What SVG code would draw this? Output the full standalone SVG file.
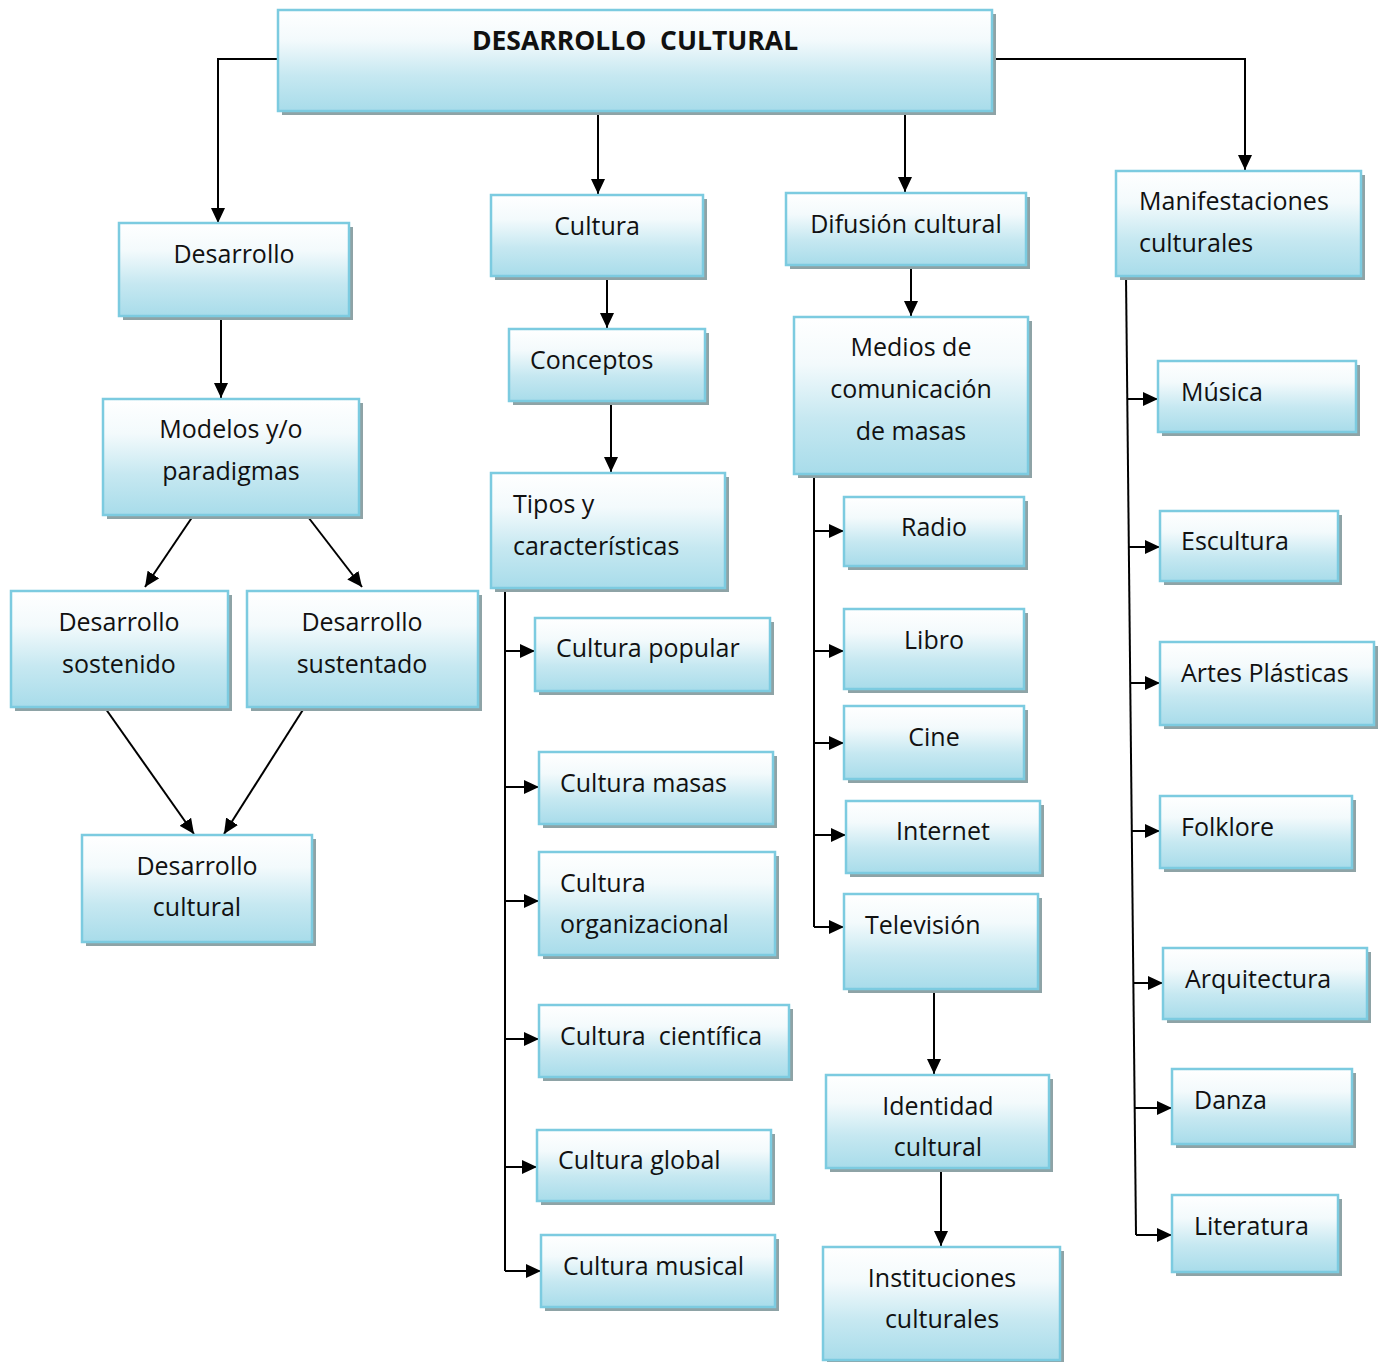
<svg xmlns="http://www.w3.org/2000/svg" width="1382" height="1362" viewBox="0 0 1382 1362">
<defs>
<linearGradient id="g" x1="0" y1="0" x2="0" y2="1">
<stop offset="0" stop-color="#ffffff"/>
<stop offset="0.3" stop-color="#f3fafc"/>
<stop offset="0.65" stop-color="#c6e8f1"/>
<stop offset="1" stop-color="#a8dcea"/>
</linearGradient>
<marker id="a" markerUnits="userSpaceOnUse" markerWidth="16" markerHeight="14" refX="15" refY="7" orient="auto">
<path d="M0,0 L15,7 L0,14 Z" fill="#000"/>
</marker>
</defs>
<style>
.sh{fill:#8ea3a6}
.bx{fill:url(#g);stroke:#7ccbe0;stroke-width:2.5}
text{font-family:"Open Sans",Lato,"Liberation Sans",sans-serif;font-size:25px;fill:#111}
.c{text-anchor:middle}
.t{font-weight:bold;font-size:26.5px}
.cn{fill:none;stroke:#000;stroke-width:2}
.ar{marker-end:url(#a)}
</style>
<rect width="1382" height="1362" fill="#fff"/>
<g id="connectors">
<polyline class="cn ar" points="278,59 218,59 218,223"/>
<line class="cn ar" x1="598" y1="111" x2="598" y2="194"/>
<line class="cn ar" x1="905" y1="111" x2="905" y2="192"/>
<polyline class="cn ar" points="992,59 1245,59 1245,170"/>
<line class="cn ar" x1="221" y1="318" x2="221" y2="398"/>
<line class="cn ar" x1="607" y1="277" x2="607" y2="328"/>
<line class="cn ar" x1="611" y1="402" x2="611" y2="472"/>
<line class="cn ar" x1="911" y1="266" x2="911" y2="316"/>
<line class="cn ar" x1="195" y1="513" x2="145" y2="587"/>
<line class="cn ar" x1="305" y1="513" x2="362" y2="587"/>
<line class="cn ar" x1="103" y1="705" x2="194" y2="834"/>
<line class="cn ar" x1="306" y1="705" x2="224" y2="834"/>
<polyline class="cn" points="505,588 505,1271"/>
<line class="cn ar" x1="505" y1="651" x2="535" y2="651"/>
<line class="cn ar" x1="505" y1="787" x2="539" y2="787"/>
<line class="cn ar" x1="505" y1="901" x2="539" y2="901"/>
<line class="cn ar" x1="505" y1="1039" x2="539" y2="1039"/>
<line class="cn ar" x1="505" y1="1167" x2="537" y2="1167"/>
<line class="cn ar" x1="505" y1="1271" x2="541" y2="1271"/>
<polyline class="cn" points="814,474 814,927"/>
<line class="cn ar" x1="814" y1="531" x2="844" y2="531"/>
<line class="cn ar" x1="814" y1="651" x2="844" y2="651"/>
<line class="cn ar" x1="814" y1="743" x2="844" y2="743"/>
<line class="cn ar" x1="814" y1="835" x2="846" y2="835"/>
<line class="cn ar" x1="814" y1="927" x2="844" y2="927"/>
<polyline class="cn" points="1126,276 1136,1235"/>
<line class="cn ar" x1="1127" y1="399" x2="1158" y2="399"/>
<line class="cn ar" x1="1129" y1="547" x2="1160" y2="547"/>
<line class="cn ar" x1="1130" y1="683" x2="1160" y2="683"/>
<line class="cn ar" x1="1132" y1="831" x2="1160" y2="831"/>
<line class="cn ar" x1="1133" y1="983" x2="1163" y2="983"/>
<line class="cn ar" x1="1135" y1="1108" x2="1172" y2="1108"/>
<line class="cn ar" x1="1136" y1="1235" x2="1172" y2="1235"/>
<line class="cn ar" x1="934" y1="992" x2="934" y2="1074"/>
<line class="cn ar" x1="941" y1="1169" x2="941" y2="1246"/>
</g>
<g id="n-top"><rect class="sh" x="282" y="14" width="714" height="101"/><rect class="bx" x="278" y="10" width="714" height="101"/><text class="t c" x="635" y="50" xml:space="preserve">DESARROLLO  CULTURAL</text></g>
<g id="n-desarrollo"><rect class="sh" x="123" y="227" width="230" height="93"/><rect class="bx" x="119" y="223" width="230" height="93"/><text class="c" x="234" y="263">Desarrollo</text></g>
<g id="n-cultura"><rect class="sh" x="495" y="199" width="212" height="81"/><rect class="bx" x="491" y="195" width="212" height="81"/><text class="c" x="597" y="235">Cultura</text></g>
<g id="n-difusion"><rect class="sh" x="790" y="197" width="240" height="72"/><rect class="bx" x="786" y="193" width="240" height="72"/><text class="c" x="906" y="233">Difusión cultural</text></g>
<g id="n-manif"><rect class="sh" x="1120" y="175" width="245" height="105"/><rect class="bx" x="1116" y="171" width="245" height="105"/><text x="1139" y="210">Manifestaciones</text><text x="1139" y="252">culturales</text></g>
<g id="n-conceptos"><rect class="sh" x="513" y="333" width="196" height="72"/><rect class="bx" x="509" y="329" width="196" height="72"/><text x="530" y="369">Conceptos</text></g>
<g id="n-modelos"><rect class="sh" x="107" y="403" width="256" height="116"/><rect class="bx" x="103" y="399" width="256" height="116"/><text class="c" x="231" y="438">Modelos y/o</text><text class="c" x="231" y="480">paradigmas</text></g>
<g id="n-medios"><rect class="sh" x="798" y="321" width="234" height="157"/><rect class="bx" x="794" y="317" width="234" height="157"/><text class="c" x="911" y="356">Medios de</text><text class="c" x="911" y="398">comunicación</text><text class="c" x="911" y="440">de masas</text></g>
<g id="n-tipos"><rect class="sh" x="495" y="477" width="234" height="115"/><rect class="bx" x="491" y="473" width="234" height="115"/><text x="513" y="513">Tipos y</text><text x="513" y="555">características</text></g>
<g id="n-sostenido"><rect class="sh" x="15" y="595" width="217" height="116"/><rect class="bx" x="11" y="591" width="217" height="116"/><text class="c" x="119" y="631">Desarrollo</text><text class="c" x="119" y="673">sostenido</text></g>
<g id="n-sustentado"><rect class="sh" x="251" y="595" width="231" height="116"/><rect class="bx" x="247" y="591" width="231" height="116"/><text class="c" x="362" y="631">Desarrollo</text><text class="c" x="362" y="673">sustentado</text></g>
<g id="n-descultural"><rect class="sh" x="86" y="839" width="230" height="107"/><rect class="bx" x="82" y="835" width="230" height="107"/><text class="c" x="197" y="875">Desarrollo</text><text class="c" x="197" y="916">cultural</text></g>
<g id="n-musica"><rect class="sh" x="1162" y="365" width="198" height="71"/><rect class="bx" x="1158" y="361" width="198" height="71"/><text x="1181" y="401">Música</text></g>
<g id="n-escultura"><rect class="sh" x="1164" y="515" width="178" height="70"/><rect class="bx" x="1160" y="511" width="178" height="70"/><text x="1181" y="550">Escultura</text></g>
<g id="n-artes"><rect class="sh" x="1164" y="646" width="214" height="83"/><rect class="bx" x="1160" y="642" width="214" height="83"/><text x="1181" y="682">Artes Plásticas</text></g>
<g id="n-folklore"><rect class="sh" x="1164" y="800" width="192" height="72"/><rect class="bx" x="1160" y="796" width="192" height="72"/><text x="1181" y="836">Folklore</text></g>
<g id="n-arquitectura"><rect class="sh" x="1167" y="952" width="204" height="71"/><rect class="bx" x="1163" y="948" width="204" height="71"/><text x="1185" y="988">Arquitectura</text></g>
<g id="n-danza"><rect class="sh" x="1176" y="1073" width="180" height="75"/><rect class="bx" x="1172" y="1069" width="180" height="75"/><text x="1194" y="1109">Danza</text></g>
<g id="n-literatura"><rect class="sh" x="1176" y="1199" width="166" height="77"/><rect class="bx" x="1172" y="1195" width="166" height="77"/><text x="1194" y="1235">Literatura</text></g>
<g id="n-radio"><rect class="sh" x="848" y="501" width="180" height="69"/><rect class="bx" x="844" y="497" width="180" height="69"/><text class="c" x="934" y="536">Radio</text></g>
<g id="n-libro"><rect class="sh" x="848" y="613" width="180" height="80"/><rect class="bx" x="844" y="609" width="180" height="80"/><text class="c" x="934" y="649">Libro</text></g>
<g id="n-cine"><rect class="sh" x="848" y="710" width="180" height="73"/><rect class="bx" x="844" y="706" width="180" height="73"/><text class="c" x="934" y="746">Cine</text></g>
<g id="n-internet"><rect class="sh" x="850" y="805" width="194" height="72"/><rect class="bx" x="846" y="801" width="194" height="72"/><text class="c" x="943" y="840">Internet</text></g>
<g id="n-television"><rect class="sh" x="848" y="898" width="194" height="95"/><rect class="bx" x="844" y="894" width="194" height="95"/><text x="865" y="934">Televisión</text></g>
<g id="n-identidad"><rect class="sh" x="830" y="1079" width="223" height="93"/><rect class="bx" x="826" y="1075" width="223" height="93"/><text class="c" x="938" y="1115">Identidad</text><text class="c" x="938" y="1156">cultural</text></g>
<g id="n-instituciones"><rect class="sh" x="827" y="1251" width="237" height="111"/><rect class="bx" x="823" y="1247" width="237" height="113"/><text class="c" x="942" y="1287">Instituciones</text><text class="c" x="942" y="1328">culturales</text></g>
<g id="n-popular"><rect class="sh" x="539" y="622" width="235" height="73"/><rect class="bx" x="535" y="618" width="235" height="73"/><text x="556" y="657">Cultura popular</text></g>
<g id="n-masas"><rect class="sh" x="543" y="756" width="234" height="72"/><rect class="bx" x="539" y="752" width="234" height="72"/><text x="560" y="792">Cultura masas</text></g>
<g id="n-organizacional"><rect class="sh" x="543" y="856" width="236" height="103"/><rect class="bx" x="539" y="852" width="236" height="103"/><text x="560" y="892">Cultura</text><text x="560" y="933">organizacional</text></g>
<g id="n-cientifica"><rect class="sh" x="543" y="1009" width="250" height="72"/><rect class="bx" x="539" y="1005" width="250" height="72"/><text x="560" y="1045" xml:space="preserve">Cultura  científica</text></g>
<g id="n-global"><rect class="sh" x="541" y="1134" width="234" height="71"/><rect class="bx" x="537" y="1130" width="234" height="71"/><text x="558" y="1169">Cultura global</text></g>
<g id="n-musical"><rect class="sh" x="545" y="1239" width="234" height="72"/><rect class="bx" x="541" y="1235" width="234" height="72"/><text x="563" y="1275">Cultura musical</text></g>
</svg>
